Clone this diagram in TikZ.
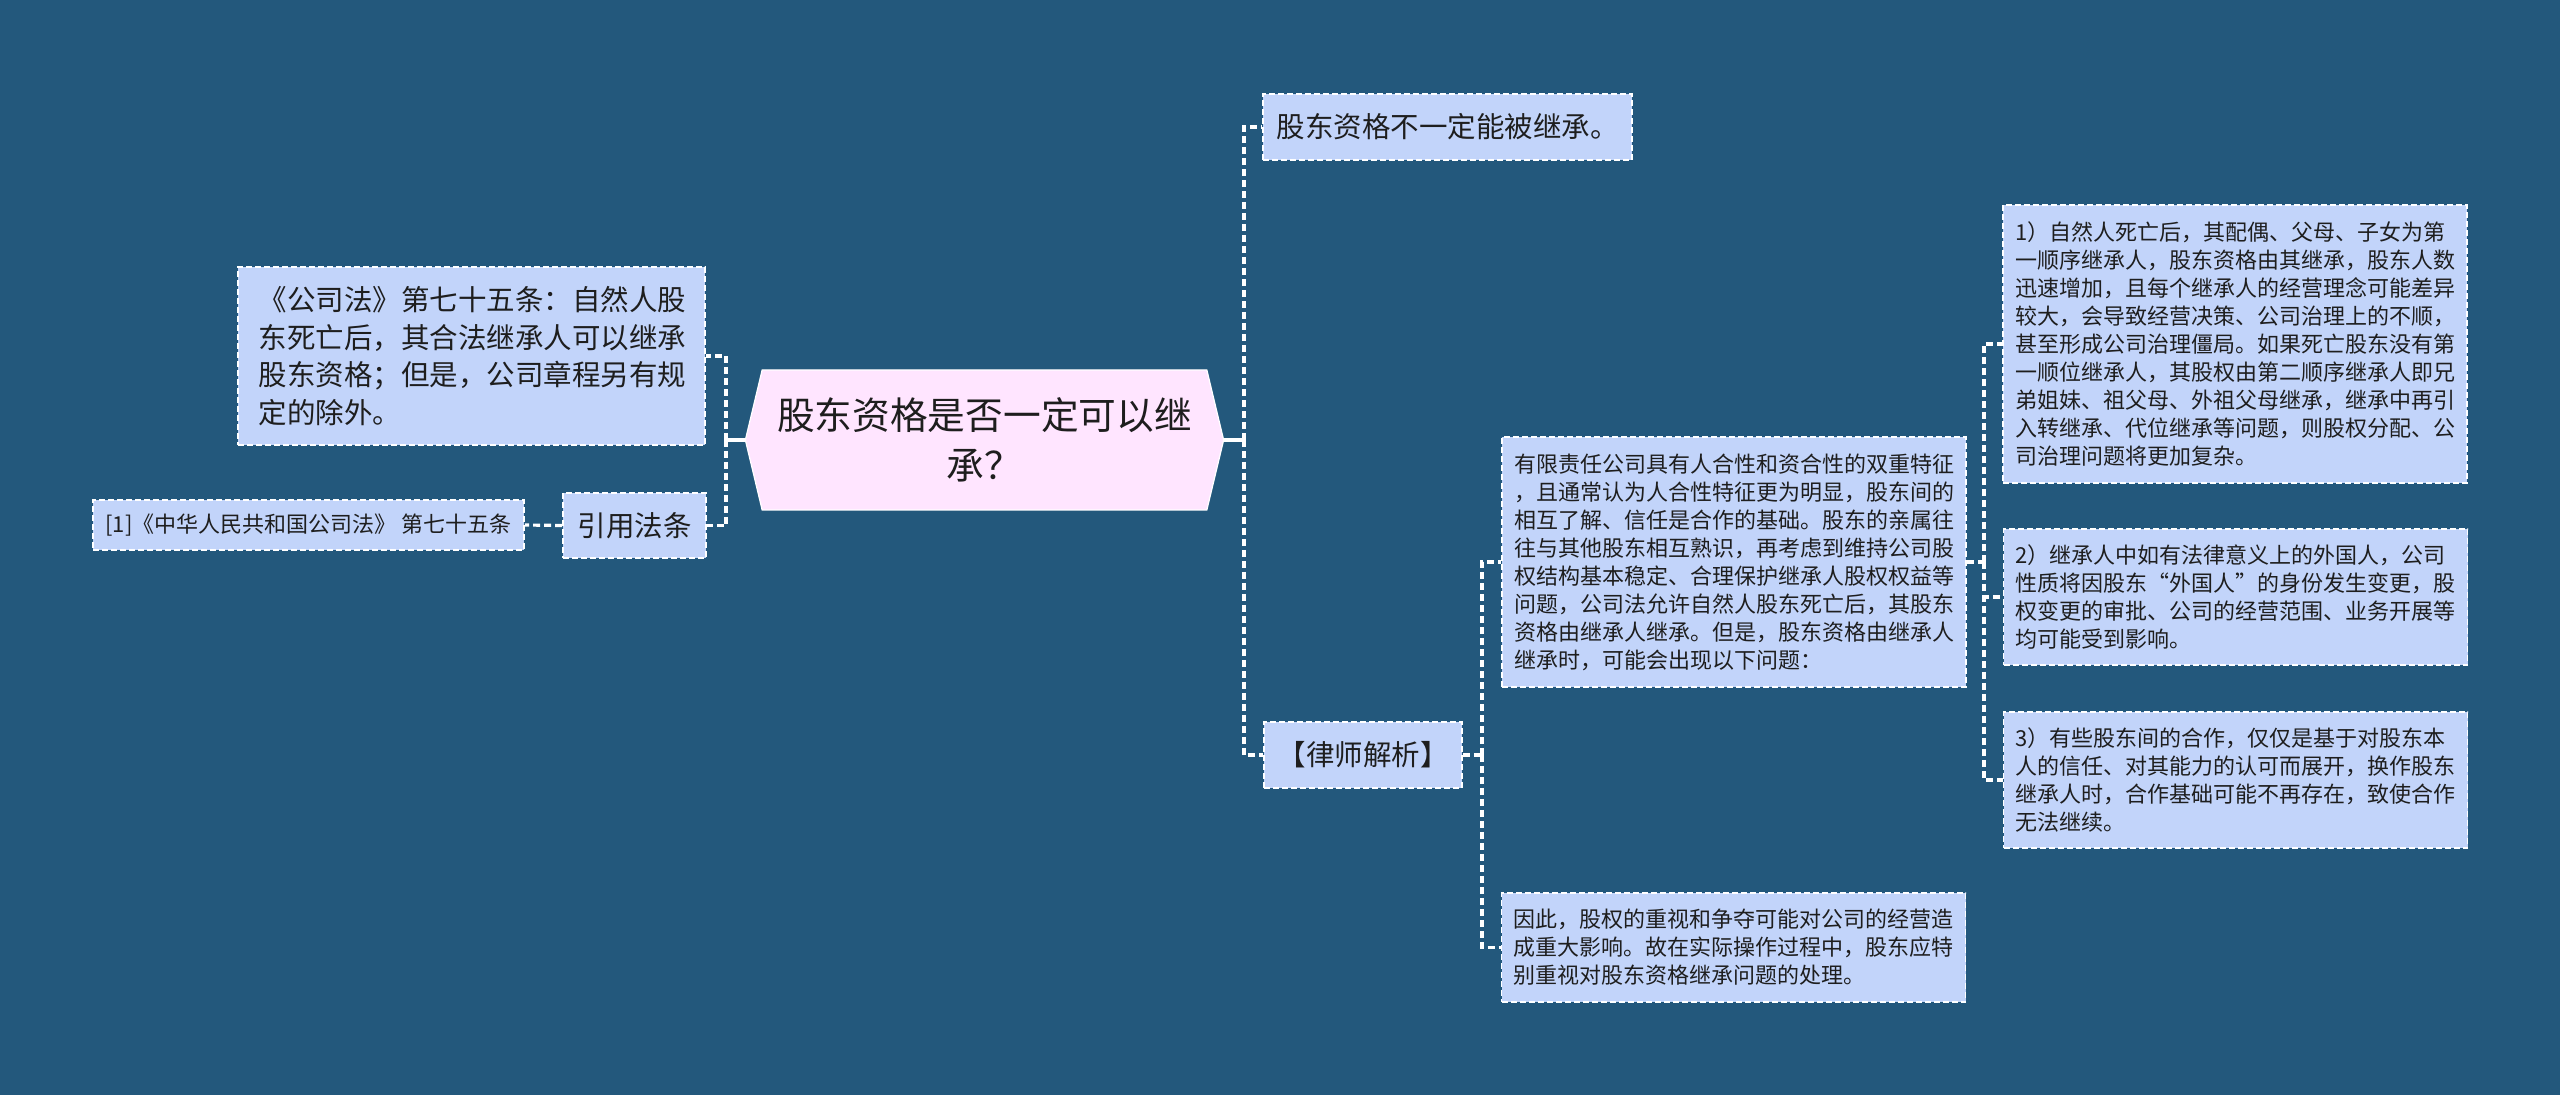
\documentclass[tikz,border=0pt]{standalone}
\usepackage{fontspec}
\newfontfamily\cjk{Noto Sans CJK SC}
\usepackage{tikz}
\usetikzlibrary{positioning,shapes.symbols,backgrounds}

\definecolor{sfondo}{RGB}{35,88,124}
\definecolor{azzurro}{RGB}{194,212,250}
\definecolor{rosa}{RGB}{255,229,255}
\definecolor{testo}{RGB}{30,30,30}

\tikzset{
  box/.style={rectangle, draw=white, line width=0.8pt, dash pattern=on 3pt off 1.5pt,
    fill=azzurro, text=testo},
  leaf/.style={box, font=\cjk\fontsize{11}{14}\selectfont, text width=220pt, align=left,
    inner xsep=6pt, inner ysep=3pt},
  topic/.style={box, font=\cjk\fontsize{14.25}{18.85}\selectfont, align=left, inner sep=4pt},
  root/.style={signal, signal to=west and east, signal pointer angle=153, draw=white,
    line width=0.6pt, fill=rosa, text=testo, font=\cjk\fontsize{18.85}{25}\selectfont,
    align=center, inner xsep=7.5pt, inner ysep=12pt, minimum height=70pt},
  link/.style={draw=white, line width=1.6pt, dash pattern=on 3.5pt off 2pt},
  stem/.style={draw=white, line width=1.6pt},
}

\begin{document}
\begin{tikzpicture}[x=0.5pt, y=-0.5pt]
        \fill[sfondo] (0, 0) rectangle (2560, 1095);

        \node[root] (root) at (984.5, 440) {股东资格是否一定可以继\\承？};

        % Lato sinistro
        \node[topic, text width=213pt, minimum width=233.5pt, minimum height=89pt] (law) at (471.5, 356)
            {《公司法》第七十五条：自然人股\\东死亡后，其合法继承人可以继承\\股东资格；但是，公司章程另有规\\定的除外。};
        \node[topic, minimum width=71.5pt, minimum height=32.5pt] (yinyong) at (634.5, 525.5) {引用法条};
        \node[box, font=\cjk\fontsize{11}{14}\selectfont, minimum width=215.5pt, minimum height=25pt] (cite) at (308.5, 525)
            {[1]《中华人民共和国公司法》 第七十五条};

        % Lato destro
        \node[topic, minimum width=184.5pt, minimum height=33pt] (buneng) at (1447.5, 127) {股东资格不一定能被继承。};
        \node[topic, minimum width=99pt, minimum height=33pt] (lvshi) at (1363, 755) {【律师解析】};
        \node[leaf, minimum height=125pt] (analisi) at (1734, 562)
            {有限责任公司具有人合性和资合性的双重特征\\，且通常认为人合性特征更为明显，股东间的\\相互了解、信任是合作的基础。股东的亲属往\\往与其他股东相互熟识，再考虑到维持公司股\\权结构基本稳定、合理保护继承人股权权益等\\问题，公司法允许自然人股东死亡后，其股东\\资格由继承人继承。但是，股东资格由继承人\\继承时，可能会出现以下问题：};
        \node[leaf, minimum height=54.5pt] (yinci) at (1733.5, 947.5)
            {因此，股权的重视和争夺可能对公司的经营造\\成重大影响。故在实际操作过程中，股东应特\\别重视对股东资格继承问题的处理。};
        \node[leaf, minimum height=139pt] (p1) at (2235, 344)
            {1）自然人死亡后，其配偶、父母、子女为第\\一顺序继承人，股东资格由其继承，股东人数\\迅速增加，且每个继承人的经营理念可能差异\\较大，会导致经营决策、公司治理上的不顺，\\甚至形成公司治理僵局。如果死亡股东没有第\\一顺位继承人，其股权由第二顺序继承人即兄\\弟姐妹、祖父母、外祖父母继承，继承中再引\\入转继承、代位继承等问题，则股权分配、公\\司治理问题将更加复杂。};
        \node[leaf, minimum height=68pt] (p2) at (2235.5, 597)
            {2）继承人中如有法律意义上的外国人，公司\\性质将因股东“外国人”的身份发生变更，股\\权变更的审批、公司的经营范围、业务开展等\\均可能受到影响。};
        \node[leaf, minimum height=68pt] (p3) at (2235.5, 780)
            {3）有些股东间的合作，仅仅是基于对股东本\\人的信任、对其能力的认可而展开，换作股东\\继承人时，合作基础可能不再存在，致使合作\\无法继续。};

        \coordinate (lj) at (726, 440);
        \coordinate (rj) at (1244, 440);
        \coordinate (aj) at (1482, 755);
        \coordinate (bj) at (1984, 562);

        % Linee a sinistra
        \draw[stem] (root.west) -- (lj);
        \draw[link] (lj) |- (law.east);
        \draw[link] (lj) |- (yinyong.east);
        \draw[link] (yinyong.west) -- (cite.east);

        % Linee a destra
        \draw[stem] (root.east) -- (rj);
        \draw[link] (rj) |- (buneng.west);
        \draw[link] (rj) |- (lvshi.west);
        \draw[link] (lvshi.east) -- (aj);
        \draw[link] (aj) |- (analisi.west);
        \draw[link] (aj) |- (yinci.west);
        \draw[link] (analisi.east) -- (bj);
        \draw[link] (bj) |- (p1.west);
        \draw[link] (bj) |- (p2.west);
        \draw[link] (bj) |- (p3.west);
    \end{tikzpicture}
\end{document}
